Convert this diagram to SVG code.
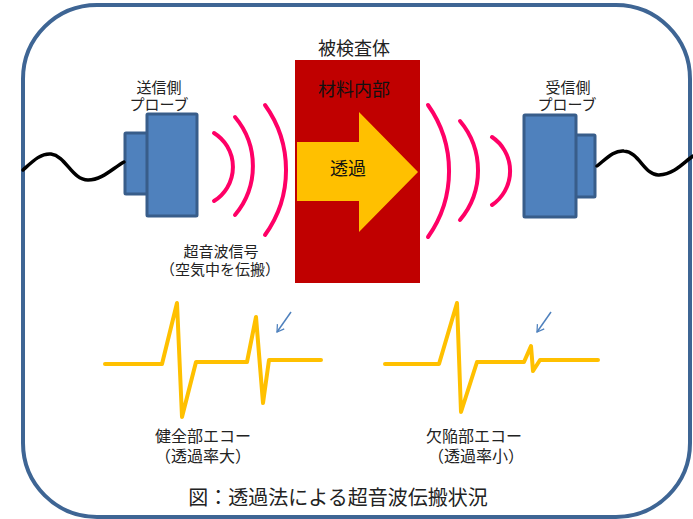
<svg xmlns="http://www.w3.org/2000/svg" width="693" height="519" viewBox="0 0 693 519">
  <defs>
    <style>
      text { font-family: "Noto Sans CJK JP", "Noto Sans", sans-serif; fill: #222; text-anchor: middle; }
      .probe { fill: #4F81BD; stroke: #385D8A; stroke-width: 3; }
      .wave { fill: none; stroke: #FF0066; stroke-width: 4; stroke-linecap: round; }
      .wire { fill: none; stroke: #000; stroke-width: 3.5; stroke-linecap: round; }
      .echo { fill: none; stroke: #FFC000; stroke-width: 4; stroke-linejoin: round; stroke-linecap: round; }
      .pointer { fill: none; stroke: #4F81BD; stroke-width: 1.5; }
    </style>
    <marker id="openHead" viewBox="0 0 12 12" refX="10" refY="6" markerWidth="10" markerHeight="10" orient="auto" markerUnits="userSpaceOnUse">
      <polyline points="2,1 10,6 2,11" fill="none" stroke="#4F81BD" stroke-width="1.5"/>
    </marker>
  </defs>

  <!-- outer frame -->
  <rect id="frame" x="23" y="5" width="667" height="512" rx="74" ry="74" fill="#fff" stroke="#3E6594" stroke-width="4"/>

  <!-- specimen block -->
  <g id="specimen">
    <text x="354" y="55" font-size="18">被検査体</text>
    <rect x="295" y="60" width="125" height="223" fill="#C00000"/>
    <text x="354" y="96" font-size="18" style="fill:#111">材料内部</text>
    <polygon points="297,142 359,142 359,112 418,172 359,232 359,201 297,201" fill="#FFC000"/>
    <text x="348" y="175" font-size="18" style="fill:#111">透過</text>
  </g>

  <!-- transmitting probe -->
  <g id="probe-tx">
    <rect class="probe" x="125" y="133" width="23" height="61" rx="1"/>
    <rect class="probe" x="147" y="114" width="50" height="102" rx="1"/>
    <text x="159" y="93" font-size="15">送信側</text>
    <text x="159" y="110" font-size="15">プローブ</text>
  </g>

  <!-- receiving probe -->
  <g id="probe-rx">
    <rect class="probe" x="575" y="135" width="20" height="62" rx="1"/>
    <rect class="probe" x="524" y="115" width="52" height="102" rx="1"/>
    <text x="568" y="93" font-size="15">受信側</text>
    <text x="567" y="110" font-size="15">プローブ</text>
  </g>

  <!-- ultrasonic wavefronts -->
  <g id="waves-in">
    <path class="wave" d="M214,133 A40,40 0 0 1 214,201"/>
    <path class="wave" d="M235,117 A76,76 0 0 1 235,215"/>
    <path class="wave" d="M265,105 A111,111 0 0 1 265,235"/>
    <text x="221" y="257" font-size="15">超音波信号</text>
    <text x="220" y="275" font-size="15">（空気中を伝搬）</text>
  </g>
  <g id="waves-out">
    <path class="wave" d="M428,105 A114,114 0 0 1 428,237"/>
    <path class="wave" d="M460,121 A77,77 0 0 1 460,220"/>
    <path class="wave" d="M492,137 A41,41 0 0 1 492,205"/>
  </g>

  <!-- cables and pointers -->
  <g id="connectors">
    <path class="wire" d="M23,170 C33,161 41,153 51,154 C66,156 72,180 88,180 C102,180 113,168 124,162"/>
    <path class="wire" d="M597,166 C607,158 614,150 624,151 C639,152 645,176 659,175 C675,174 684,162 693,156"/>
    <line class="pointer" x1="291" y1="312" x2="277" y2="332" marker-end="url(#openHead)"/>
    <line class="pointer" x1="551" y1="312" x2="537" y2="332" marker-end="url(#openHead)"/>
  </g>

  <!-- echo signal: sound region -->
  <g id="echo-sound">
    <polyline class="echo" points="105,364 162,364 177,303 182,417 196,362 247,362 256,317 263,403 269,360 321,360"/>
    <text x="203" y="442" font-size="16">健全部エコー</text>
    <text x="203" y="462" font-size="16">（透過率大）</text>
  </g>

  <!-- echo signal: defect region -->
  <g id="echo-defect">
    <polyline class="echo" points="385,364 439,364 457,303 461,412 477,362 524,362 531,346 533,371 540,360 598,360"/>
    <text x="474" y="442" font-size="16">欠陥部エコー</text>
    <text x="476" y="462" font-size="16">（透過率小）</text>
  </g>

  <!-- caption -->
  <text id="caption" x="338" y="505" font-size="20">図：透過法による超音波伝搬状況</text>
</svg>
